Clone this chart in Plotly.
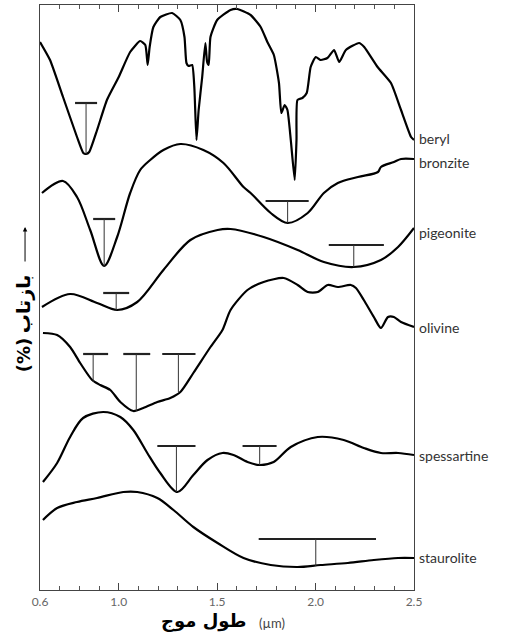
import plotly.graph_objects as go

# ---- data (wavelength in micrometres, reflectance offset in arbitrary units) ----
beryl_x = [0.600, 0.651, 0.717, 0.788, 0.820, 0.834, 0.850, 0.890, 0.940, 1.000, 1.058, 1.109,
           1.135, 1.147, 1.157, 1.176, 1.211, 1.271, 1.313, 1.334, 1.344, 1.355, 1.373, 1.384,
           1.395, 1.406, 1.424, 1.440, 1.449, 1.457, 1.466, 1.500, 1.568, 1.602, 1.670, 1.721,
           1.755, 1.788, 1.814, 1.826, 1.843, 1.857, 1.874, 1.894, 1.903, 1.908, 1.933, 1.955,
           1.975, 2.001, 2.026, 2.060, 2.094, 2.120, 2.154, 2.221, 2.247, 2.315, 2.383, 2.434,
           2.485, 2.500]
beryl_y = [548, 530, 493, 453, 437, 436, 438, 460, 490, 513, 538, 549,
           545, 525, 543, 563, 573, 577, 570, 553, 527, 524, 525, 503,
           450, 480, 513, 547, 528, 525, 553, 570, 580, 581, 575, 563,
           548, 535, 507, 477, 485, 480, 450, 410, 450, 490, 492, 497,
           523, 533, 530, 532, 540, 528, 540, 547, 543, 523, 507, 480,
           453, 450]

bronzite_x = [0.610, 0.717, 0.788, 0.855, 0.926, 0.992, 1.058, 1.109, 1.160, 1.227, 1.313,
              1.430, 1.532, 1.634, 1.670, 1.772, 1.858, 1.960, 2.042, 2.113, 2.215, 2.317,
              2.332, 2.398, 2.434, 2.500]
bronzite_y = [397, 409, 393, 360, 324, 353, 397, 420, 430, 440, 446,
              440, 427, 403, 397, 377, 367, 377, 397, 407, 413, 418,
              423, 428, 431, 431]

pigeonite_x = [0.610, 0.753, 0.890, 0.992, 1.094, 1.227, 1.364, 1.502, 1.568, 1.736, 1.909,
               2.042, 2.194, 2.332, 2.419, 2.500]
pigeonite_y = [283, 296, 287, 280, 288, 320, 350, 360, 361, 353, 340,
               328, 323, 330, 343, 362]

olivine_x = [0.615, 0.687, 0.753, 0.804, 0.865, 0.906, 0.957, 1.008, 1.074, 1.125, 1.196,
             1.262, 1.313, 1.379, 1.466, 1.527, 1.568, 1.654, 1.736, 1.838, 1.909, 1.960,
             2.011, 2.062, 2.113, 2.179, 2.205, 2.245, 2.296, 2.332, 2.368, 2.398, 2.434, 2.500]
olivine_y = [257, 255, 243, 227, 210, 205, 200, 188, 179, 182, 188,
             192, 198, 217, 243, 260, 280, 300, 308, 312, 305, 298,
             298, 305, 303, 305, 302, 290, 273, 262, 273, 273, 268, 263]

spessartine_x = [0.615, 0.687, 0.753, 0.819, 0.921, 1.008, 1.074, 1.145, 1.211, 1.298, 1.379,
                 1.451, 1.527, 1.583, 1.654, 1.716, 1.787, 1.874, 2.011, 2.143, 2.245, 2.332,
                 2.419, 2.500]
spessartine_y = [108, 127, 153, 172, 178, 173, 160, 137, 117, 98, 115,
                 130, 137, 135, 128, 125, 128, 143, 153, 150, 142, 137,
                 137, 135]

staurolite_x = [0.615, 0.687, 0.788, 0.890, 1.023, 1.094, 1.196, 1.278, 1.379, 1.502, 1.634,
                1.772, 1.909, 2.026, 2.164, 2.296, 2.419, 2.500]
staurolite_y = [70, 82, 88, 92, 98, 98, 92, 80, 63, 47, 32,
                25, 23, 25, 27, 30, 32, 32]

mineral_names = ["beryl", "bronzite", "pigeonite", "olivine", "spessartine", "staurolite"]
label_y = [452, 428, 358, 263, 135, 33]

# absorption band markers (T shapes)
band_center = [0.834, 0.926, 1.858, 0.987, 2.194, 0.870, 1.089, 1.303, 1.293, 1.716, 2.001]
band_left   = [0.778, 0.870, 1.746, 0.921, 2.067, 0.819, 1.023, 1.221, 1.196, 1.629, 1.711]
band_right  = [0.890, 0.982, 1.965, 1.053, 2.347, 0.946, 1.160, 1.390, 1.390, 1.802, 2.307]
band_top    = [487, 371, 389, 297, 345, 236, 236, 236, 144, 144, 51]
band_bottom = [436, 324, 367, 280, 323, 208, 179, 198, 98, 125, 24]

x_ticks = [0.6, 1.0, 1.5, 2.0, 2.5]
x_tick_text = ["0.6", "1.0", "1.5", "2.0", "2.5"]

fig = go.Figure()

curves = [(beryl_x, beryl_y, 0.5), (bronzite_x, bronzite_y, 0.9), (pigeonite_x, pigeonite_y, 0.9),
          (olivine_x, olivine_y, 0.7), (spessartine_x, spessartine_y, 0.9),
          (staurolite_x, staurolite_y, 0.9)]
for cx, cy, sm in curves:
    fig.add_trace(go.Scatter(x=cx, y=cy, mode="lines",
                             line=dict(color="black", width=2.2, shape="spline", smoothing=sm),
                             hoverinfo="skip", showlegend=False))

# band markers: thick horizontal bar + thin vertical stem
hx, hy, vx, vy = [], [], [], []
for c, l, r, t, b in zip(band_center, band_left, band_right, band_top, band_bottom):
    hx += [l, r, None]
    hy += [t, t, None]
    vx += [c, c, None]
    vy += [t, b, None]
fig.add_trace(go.Scatter(x=hx, y=hy, mode="lines", line=dict(color="#222", width=2.2),
                         hoverinfo="skip", showlegend=False))
fig.add_trace(go.Scatter(x=vx, y=vy, mode="lines", line=dict(color="#333", width=1),
                         hoverinfo="skip", showlegend=False))

annotations = []
for name, ly in zip(mineral_names, label_y):
    annotations.append(dict(x=1.0, xref="paper", y=ly, yref="y", text=name, showarrow=False,
                            xanchor="left", yanchor="middle", xshift=3,
                            font=dict(family="Lato, DejaVu Sans", size=14, color="#333")))

# y-axis title pieces (rotated)
annotations.append(dict(x=-0.045, xref="paper", y=(590 - 355) / 585, yref="paper", text="(%)",
                        textangle=-90, showarrow=False, xanchor="center", yanchor="middle",
                        font=dict(family="DejaVu Sans", size=18, color="black", weight="bold")))
annotations.append(dict(x=-0.045, xref="paper", y=(590 - 304) / 585, yref="paper", text="بازتاب",
                        textangle=-90, showarrow=False, xanchor="center", yanchor="middle",
                        font=dict(family="DejaVu Sans", size=19, color="black", weight="bold")))
annotations.append(dict(x=-0.040, xref="paper", y=(590 - 227) / 585, yref="paper", text="",
                        showarrow=True, ax=0, ay=36, arrowhead=2, arrowsize=0.9, arrowwidth=1,
                        arrowcolor="black"))
# x-axis title pieces
annotations.append(dict(x=(204 - 40) / 374, xref="paper", y=-(621 - 590) / 585, yref="paper",
                        text="طول موج", showarrow=False, xanchor="center", yanchor="middle",
                        font=dict(family="DejaVu Sans", size=18, color="black", weight="bold")))
annotations.append(dict(x=(272 - 40) / 374, xref="paper", y=-(623 - 590) / 585, yref="paper",
                        text="(µm)", showarrow=False, xanchor="center", yanchor="middle",
                        font=dict(family="Lato, DejaVu Sans", size=13, color="#444")))

minor_vals = [round(0.6 + 0.1 * i, 1) for i in range(1, 19)]

fig.update_layout(
    width=519, height=634,
    margin=dict(l=40, r=105, t=5, b=44),
    paper_bgcolor="white", plot_bgcolor="white",
    annotations=annotations,
    xaxis=dict(range=[0.6, 2.5], tickvals=x_ticks, ticktext=x_tick_text,
               ticks="inside", ticklen=7, tickwidth=1, tickcolor="#444",
               minor=dict(tickvals=minor_vals, ticks="inside", ticklen=4, tickwidth=1,
                          tickcolor="#555"),
               showline=True, linecolor="#444", linewidth=1, mirror="allticks",
               showgrid=False, zeroline=False, ticklabelstandoff=1,
               tickfont=dict(family="Lato, DejaVu Sans", size=12, color="#666")),
    yaxis=dict(range=[0, 585], showticklabels=False, ticks="", showline=True,
               linecolor="#444", linewidth=1, mirror=True, showgrid=False, zeroline=False),
)

fig.write_html("out.html")
